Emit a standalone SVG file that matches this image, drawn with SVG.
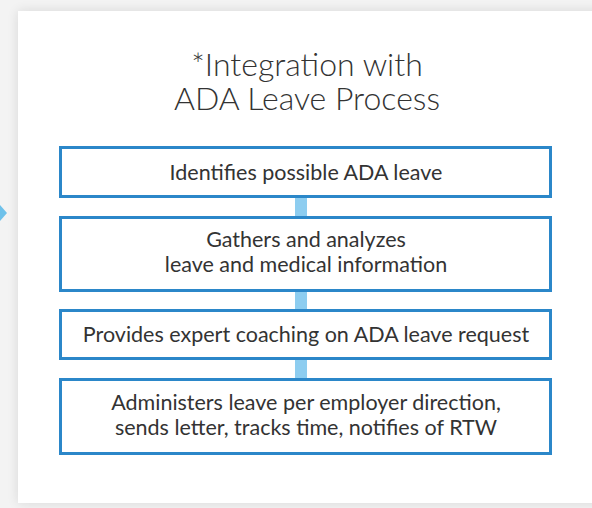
<svg xmlns="http://www.w3.org/2000/svg" width="592" height="508" viewBox="0 0 592 508">
<defs>
<style>
.box{fill:#ffffff;stroke:#2b87c9;stroke-width:3}
.txt{font-family:Lato,"Open Sans",sans-serif;font-size:21.5px;fill:#333333;text-anchor:middle}
.title{font-family:Lato,"Open Sans",sans-serif;font-weight:300;font-size:32px;fill:#333333;text-anchor:middle}
.conn{fill:#8dcdf0}
</style>
<filter id="sh" x="-10%" y="-10%" width="120%" height="120%">
<feGaussianBlur in="SourceAlpha" stdDeviation="6"/>
<feComponentTransfer><feFuncA type="linear" slope="0.12"/></feComponentTransfer>
<feMerge><feMergeNode/><feMergeNode in="SourceGraphic"/></feMerge>
</filter>
</defs>
<rect x="0" y="0" width="592" height="508" fill="#f3f3f3"/>
<rect x="18" y="11" width="600" height="492" fill="#ffffff" filter="url(#sh)"/>
<polygon points="0,205 7,213 0,221" fill="#6ec1ea"/>
<g id="title">
<text class="title" x="307" y="76">*Integration with</text>
<text class="title" x="307" y="110">ADA Leave Process</text>
</g>
<g id="connectors">
<rect class="conn" x="295" y="198" width="12" height="18"/>
<rect class="conn" x="295" y="292" width="12" height="17"/>
<rect class="conn" x="295" y="360" width="12" height="18"/>
</g>
<g id="node1">
<rect class="box" x="60.5" y="147.5" width="490" height="49"/>
<text class="txt" x="306" y="180">Identifies possible ADA leave</text>
</g>
<g id="node2">
<rect class="box" x="60.5" y="217.5" width="490" height="73"/>
<text class="txt" x="306" y="247">Gathers and analyzes</text>
<text class="txt" x="306" y="272">leave and medical information</text>
</g>
<g id="node3">
<rect class="box" x="60.5" y="310.5" width="490" height="48"/>
<text class="txt" x="306" y="342">Provides expert coaching on ADA leave request</text>
</g>
<g id="node4">
<rect class="box" x="60.5" y="379.5" width="490" height="74"/>
<text class="txt" x="306" y="410">Administers leave per employer direction,</text>
<text class="txt" x="306" y="435">sends letter, tracks time, notifies of RTW</text>
</g>
</svg>
